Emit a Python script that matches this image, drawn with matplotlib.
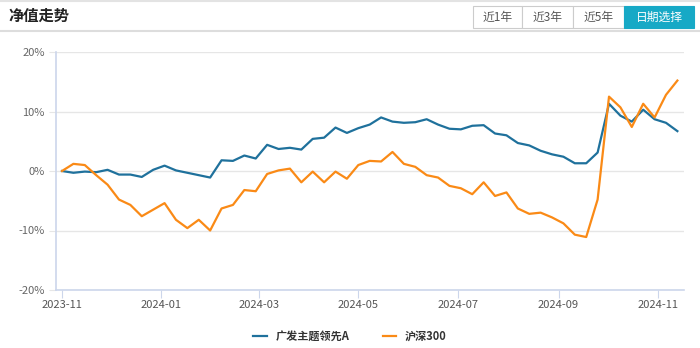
import matplotlib
matplotlib.use("Agg")
import matplotlib.pyplot as plt
import matplotlib.dates as mdates
from matplotlib.patches import Rectangle
import numpy as np
import datetime as dt

plt.rcParams['font.family'] = ['Noto Sans CJK SC', 'DejaVu Sans']

start_date = "2023-11-01"
n_weeks = 55
fund_name = "广发主题领先A"
index_name = "沪深300"

fund_values = [0, -0.3, -0.1, -0.2, 0.2, -0.6, -0.6, -1.0, 0.2, 0.9, 0.1, -0.3, -0.7, -1.1,
               1.8, 1.7, 2.6, 2.1, 4.4, 3.7, 3.9, 3.6, 5.4, 5.6, 7.3, 6.4,
               7.2, 7.8, 9.0, 8.3, 8.1, 8.2, 8.7, 7.8, 7.1, 7.0, 7.6, 7.7, 6.3, 6.0,
               4.7, 4.3, 3.4, 2.8, 2.4, 1.3, 1.3, 3.1, 11.3, 9.3, 8.3, 10.3, 8.7, 8.1, 6.7]
index_values = [0, 1.2, 1.0, -0.7, -2.3, -4.8, -5.7, -7.6, -6.5, -5.4, -8.2, -9.6, -8.2, -10.0,
                -6.3, -5.7, -3.2, -3.4, -0.5, 0.1, 0.4, -1.9, -0.1, -1.9, -0.1, -1.3,
                1.0, 1.7, 1.6, 3.2, 1.2, 0.7, -0.7, -1.1, -2.5, -2.9, -3.9, -1.9, -4.2, -3.6,
                -6.3, -7.2, -7.0, -7.8, -8.8, -10.7, -11.1, -4.8, 12.5, 10.7, 7.4, 11.3, 9.0, 12.8, 15.2]
x_tick_labels = ["2023-11", "2024-01", "2024-03", "2024-05", "2024-07", "2024-09", "2024-11"]
y_ticks = [-20, -10, 0, 10, 20]
buttons = ["近1年", "近3年", "近5年", "日期选择"]

d0 = dt.datetime.strptime(start_date, "%Y-%m-%d")
dates = [d0 + dt.timedelta(days=7 * i) for i in range(n_weeks)]

W, H = 700, 348
fig = plt.figure(figsize=(W / 100, H / 100), dpi=100)
fig.patch.set_facecolor('white')

def fx(px):
    return px / W

def fy(py):
    return 1 - py / H

# header
fig.add_artist(plt.Line2D([0, 1], [fy(1), fy(1)], color='#e3e3e3', lw=1.5))
fig.add_artist(plt.Line2D([0, 1], [fy(31), fy(31)], color='#dddddd', lw=1.5))
fig.text(fx(8), fy(16), "净值走势", fontsize=11, fontweight='bold', color='#222222',
         va='center', ha='left')

bx = [473, 522, 573, 624, 694]
for i, lab in enumerate(buttons):
    x0, x1 = bx[i], bx[i + 1]
    active = (i == len(buttons) - 1)
    rect = Rectangle((fx(x0), fy(28)), fx(x1 - x0), (28 - 6) / H, transform=fig.transFigure,
                     facecolor='#17a9c6' if active else 'white',
                     edgecolor='#17a9c6' if active else '#cccccc', lw=0.8)
    fig.add_artist(rect)
    fig.text(fx((x0 + x1) / 2), fy(17), lab, fontsize=8.5,
             color='white' if active else '#555555', ha='center', va='center')

# axes
ax = fig.add_axes([fx(56), fy(290), fx(684 - 56), (290 - 52) / H])
ax.plot(dates, fund_values, color='#1f719c', lw=1.6, label=fund_name, zorder=3)
ax.plot(dates, index_values, color='#fa8a16', lw=1.6, label=index_name, zorder=3)

px_per_day = 1.628
xmin = mdates.date2num(d0) - 6 / px_per_day
xmax = mdates.date2num(d0) + (684 - 62) / px_per_day
ax.set_xlim(xmin, xmax)
ax.set_ylim(-20, 20)

ax.set_yticks(y_ticks)
ax.set_yticklabels([f"{v}%" for v in y_ticks])
ax.yaxis.grid(True, color='#e6e6e6', lw=1)
ax.set_axisbelow(True)

xt = [dt.datetime.strptime(s + "-01", "%Y-%m-%d") for s in x_tick_labels]
ax.set_xticks(xt)
ax.set_xticklabels(x_tick_labels)

for s in ['top', 'right']:
    ax.spines[s].set_visible(False)
ax.spines['left'].set_color('#ccd6eb')
ax.spines['bottom'].set_color('#ccd6eb')
ax.spines['left'].set_linewidth(1.2)
ax.spines['bottom'].set_linewidth(1.2)

ax.tick_params(axis='y', length=5, color='#e6e6e6', labelsize=8, labelcolor='#666666', pad=3)
ax.tick_params(axis='x', length=6, color='#ccd6eb', labelsize=8, labelcolor='#555555', pad=1)

leg = fig.legend(loc='center', bbox_to_anchor=(fx(350), fy(336)), ncol=2, frameon=False,
                 fontsize=8, handlelength=1.2, columnspacing=3.0, handletextpad=0.8)
for t in leg.get_texts():
    t.set_fontweight('bold')
    t.set_color('#333333')

fig.savefig("out.png", dpi=100, facecolor='white')
